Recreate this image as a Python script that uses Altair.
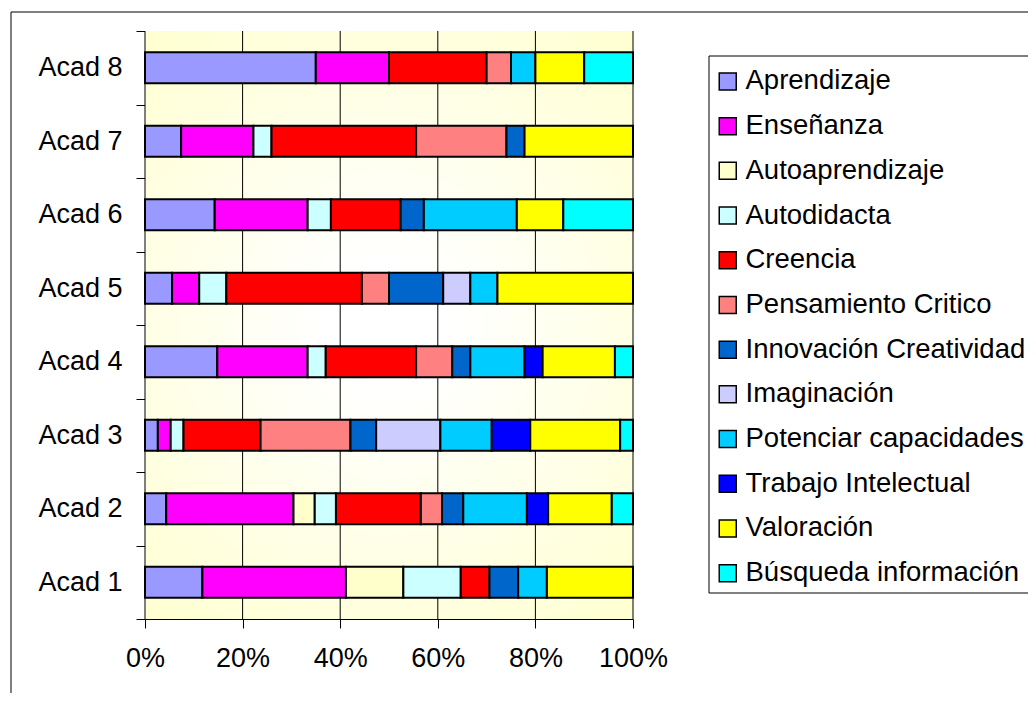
import altair as alt
import pandas as pd

acads = ["Acad 1", "Acad 2", "Acad 3", "Acad 4", "Acad 5", "Acad 6", "Acad 7", "Acad 8"]
categories = [
    "Aprendizaje", "Enseñanza", "Autoaprendizaje", "Autodidacta", "Creencia",
    "Pensamiento Critico", "Innovación Creatividad", "Imaginación",
    "Potenciar capacidades", "Trabajo Intelectual", "Valoración", "Búsqueda información",
]
colors = [
    "#9999FF", "#FF00FF", "#FFFFCC", "#CCFFFF", "#FF0000", "#FF8080",
    "#0066CC", "#CCCCFF", "#00CCFF", "#0000FF", "#FFFF00", "#00FFFF",
]

# values per category, for Acad 1 .. Acad 8
aprendizaje = [2, 1, 1, 4, 1, 3, 2, 7]
ensenanza = [5, 6, 1, 5, 1, 4, 4, 3]
autoaprendizaje = [2, 1, 0, 0, 0, 0, 0, 0]
autodidacta = [2, 1, 1, 1, 1, 1, 1, 0]
creencia = [1, 4, 6, 5, 5, 3, 8, 4]
pensamiento = [0, 1, 7, 2, 1, 0, 5, 1]
innovacion = [1, 1, 2, 1, 2, 1, 1, 0]
imaginacion = [0, 0, 5, 0, 1, 0, 0, 0]
potenciar = [1, 3, 4, 3, 1, 4, 0, 1]
trabajo = [0, 1, 3, 1, 0, 0, 0, 0]
valoracion = [3, 3, 7, 4, 5, 2, 6, 2]
busqueda = [0, 1, 1, 1, 0, 3, 0, 2]

x_ticks = [0, 0.2, 0.4, 0.6, 0.8, 1.0]

series = [aprendizaje, ensenanza, autoaprendizaje, autodidacta, creencia, pensamiento,
          innovacion, imaginacion, potenciar, trabajo, valoracion, busqueda]

rows = []
for ci, (cat, vals) in enumerate(zip(categories, series)):
    for a, v in zip(acads, vals):
        if v > 0:
            rows.append({"acad": a, "cat": cat, "count": v, "idx": ci})
df = pd.DataFrame(rows)

FONT = "Liberation Sans"
W, H = 488, 588
xscale = alt.Scale(domain=[0, 1], nice=False)

one = pd.DataFrame({"a": [0]})

# outer chart frame
border = alt.Chart(one).mark_rect(fill="white", fillOpacity=0, stroke="black", strokeWidth=1).encode(
    x=alt.value(-134), x2=alt.value(1000), y=alt.value(-19), y2=alt.value(800)
)

# legend frame (runs past the right edge, as in the reference)
legend_box = alt.Chart(one).mark_rect(fill="white", stroke="black", strokeWidth=1).encode(
    x=alt.value(564), x2=alt.value(1000), y=alt.value(25), y2=alt.value(562)
)

bg = alt.Chart(one).mark_rect(
    fill={
        "gradient": "radial",
        "stops": [{"offset": 0, "color": "#FFFFFF"}, {"offset": 0.15, "color": "#FFFFFF"},
                  {"offset": 1, "color": "#FFFFCC"}],
        "x1": 0.5, "y1": 0.5, "r1": 0, "x2": 0.5, "y2": 0.5, "r2": 0.7,
    }
).encode(x=alt.value(0), x2=alt.value(W), y=alt.value(0), y2=alt.value(H))

grid = alt.Chart(pd.DataFrame({"t": x_ticks})).mark_rule(color="black", strokeWidth=1).encode(
    x=alt.X("t:Q", scale=xscale, title=None)
)

bars = alt.Chart(df).mark_bar(size=31, stroke="black", strokeWidth=2).encode(
    x=alt.X(
        "count:Q", stack="normalize", scale=xscale, title=None,
        axis=alt.Axis(values=x_ticks, format=".0%", grid=False, labelFlush=False,
                      tickSize=9, labelPadding=17),
    ),
    y=alt.Y(
        "acad:N", sort=acads[::-1], title=None,
        scale=alt.Scale(paddingInner=0, paddingOuter=0),
        axis=alt.Axis(tickBand="extent", tickSize=9, labelPadding=14, grid=False),
    ),
    color=alt.Color(
        "cat:N", scale=alt.Scale(domain=categories, range=colors),
        legend=alt.Legend(
            title=None, orient="none", legendX=564, legendY=27.7,
            symbolType="square", symbolSize=289, symbolStrokeColor="black",
            symbolStrokeWidth=1.5, symbolOpacity=1, symbolOffset=-4,
            labelFontSize=27.5, labelFont=FONT, labelColor="black", labelLimit=600,
            labelOffset=4, rowPadding=15.7, padding=9,
        ),
    ),
    order=alt.Order("idx:Q", sort="ascending"),
)

chart = alt.layer(border, legend_box, bg, grid, bars).properties(
    width=W, height=H,
    padding={"left": 137, "top": 23, "right": 395, "bottom": 74},
    autosize=alt.AutoSizeParams(type="none"),
).configure(font=FONT).configure_view(strokeWidth=0).configure_axis(
    domainColor="black", domainWidth=1, tickColor="black", tickWidth=1,
    labelFontSize=27, labelFont=FONT, labelColor="black",
)

chart.save("out.html", embed_options={"renderer": "svg", "actions": False})
